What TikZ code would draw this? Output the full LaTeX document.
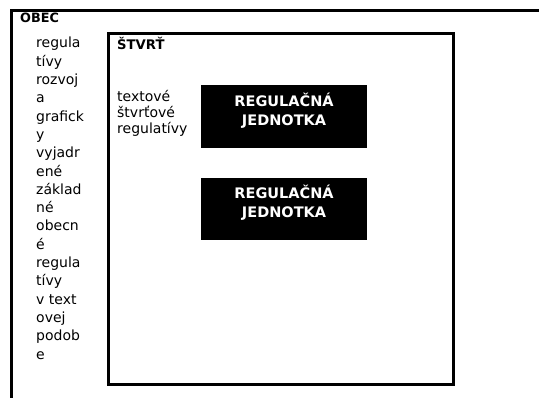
\documentclass[tikz,border=0pt]{standalone}
\usepackage{fontspec}
\setmainfont{DejaVu Sans}
\begin{document}
\begin{tikzpicture}[x=1pt,y=-1pt,
  frame/.style={line width=2.8pt},
  txt/.style={anchor=base west,inner sep=0pt,font=\fontsize{14}{16}\selectfont},
  hdr/.style={anchor=base west,inner sep=0pt,font=\fontsize{12.8}{15}\selectfont\bfseries},
  unit/.style={fill=black,draw=none,minimum width=165.7pt,minimum height=62.5pt,inner sep=0pt,anchor=north west},
  unittxt/.style={text=white,font=\fontsize{14.5}{19}\selectfont\bfseries,align=center,inner sep=0pt}]
\useasboundingbox (0,0) rectangle (539,398);
% outer OBEC frame (open)
\coordinate (otl) at (11.8,10.6);
\coordinate (otr) at (539,10.6);
\coordinate (obl) at (11.8,398);
\draw[frame] (otr) -- (otl) -- (obl);
\node[hdr] (obec) at (20,23) {OBEC};
\foreach \t [count=\i] in {regula,tívy,rozvoj,a,grafick,y,vyjadr,ené,základ,né,obecn,é,regula,tívy,v text,ovej,podob,e}
  \node[txt] (l\i) at (36,{48+(\i-1)*18.3}) {\t};
% inner ŠTVRŤ frame
\node[draw,frame,minimum width=344.5pt,minimum height=350.7pt,anchor=north west,inner sep=0pt] (stvrt) at (107.2,32.2) {};
\node[hdr,font=\fontsize{13.2}{15}\selectfont\bfseries] (stvrth) at (117,50) {ŠTVRŤ};
\node[txt] (t1) at (117,102) {textové};
\node[txt] (t2) at (117,118) {štvrťové};
\node[txt] (t3) at (117,134) {regulatívy};
% regulation units
\node[unit] (u1) at (201,85) {};
\node[unit] (u2) at (201,177.5) {};
\node[unittxt,anchor=north] (u1t) at ([yshift=-7.5pt]u1.north) {REGULAČNÁ\\JEDNOTKA};
\node[unittxt,anchor=north] (u2t) at ([yshift=-7.5pt]u2.north) {REGULAČNÁ\\JEDNOTKA};
\end{tikzpicture}
\end{document}
